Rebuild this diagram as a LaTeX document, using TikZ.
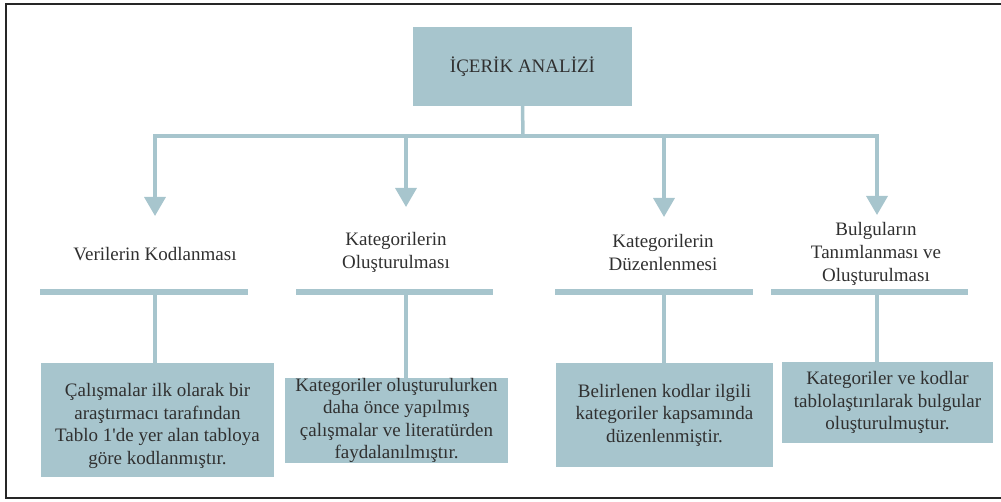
\documentclass[tikz,border=0pt]{standalone}
\usepackage{fontspec}
\setmainfont{Liberation Serif}
\usetikzlibrary{calc}
\usetikzlibrary{arrows.meta}
\definecolor{boxblue}{RGB}{167,197,205}
\definecolor{inkgray}{RGB}{48,48,48}

\begin{document}
\begin{tikzpicture}[x=1pt,y=-1pt,
  stepbox/.style={fill=boxblue,text=inkgray,align=center,inner sep=0pt,font=\fontsize{19}{22.5}\selectfont},
  title/.style={text=inkgray,align=center,inner sep=0pt,font=\fontsize{19}{23}\selectfont},
  bar/.style={fill=boxblue,inner sep=0pt,minimum height=6pt},
  link/.style={draw=boxblue,line width=3.5pt,line cap=rect}]

\useasboundingbox (0,0) rectangle (1001,502);
\draw[black!85,line width=2.5pt] (1001,4) -- (6,4) -- (6,498) -- (1001,498);

\node[stepbox,minimum width=219pt,minimum height=79pt] (root) at (522.5,66.5) {İÇERİK ANALİZİ};

\coordinate (trunk) at (523,136);
\coordinate (t1) at (155,216);
\coordinate (t2) at (406,207);
\coordinate (t3) at (664,217);
\coordinate (t4) at (877,215);

\node[title] (l1) at (155,254) {Verilerin Kodlanması};
\node[title] (l2) at (396,252) {Kategorilerin\\Oluşturulması};
\node[title] (l3) at (663,253) {Kategorilerin\\Düzenlenmesi};
\node[title] (l4) at (876,254) {Bulguların\\Tanımlanması ve\\Oluşturulması};

\node[bar,minimum width=208pt] (bar1) at (144,292) {};
\node[bar,minimum width=197pt] (bar2) at (394.5,292) {};
\node[bar,minimum width=198pt] (bar3) at (654,292) {};
\node[bar,minimum width=197pt] (bar4) at (869.5,292) {};

\node[stepbox,minimum width=233pt,minimum height=114pt] (box1) at (157.5,420) {\rule{0pt}{25pt}Çalışmalar ilk olarak bir\\araştırmacı tarafından\\Tablo 1\textquotesingle de yer alan tabloya\\göre kodlanmıştır.};
\node[stepbox,minimum width=223pt,minimum height=83pt] (box2) at (396.5,420.5) {Kategoriler oluşturulurken\\daha önce yapılmış\\çalışmalar ve literatürden\\faydalanılmıştır.};
\node[stepbox,minimum width=217pt,minimum height=104pt] (box3) at (664.5,415) {Belirlenen kodlar ilgili\\kategoriler kapsamında\\düzenlenmiştir.};
\node[stepbox,minimum width=211pt,minimum height=81pt] (box4) at (887.5,402.5) {Kategoriler ve kodlar\\tablolaştırılarak bulgular\\oluşturulmuştur.};

\draw[link] (root.south) -- (trunk);
\draw[link] (t1 |- trunk) -- (t4 |- trunk);
\foreach \i in {1,...,4} \draw[link,-{Triangle[width=21pt,length=19pt]}] (t\i |- trunk) -- (t\i);
\foreach \i in {1,...,4} \draw[link] (t\i |- bar\i) -- (t\i |- box\i.north);

\end{tikzpicture}
\end{document}
